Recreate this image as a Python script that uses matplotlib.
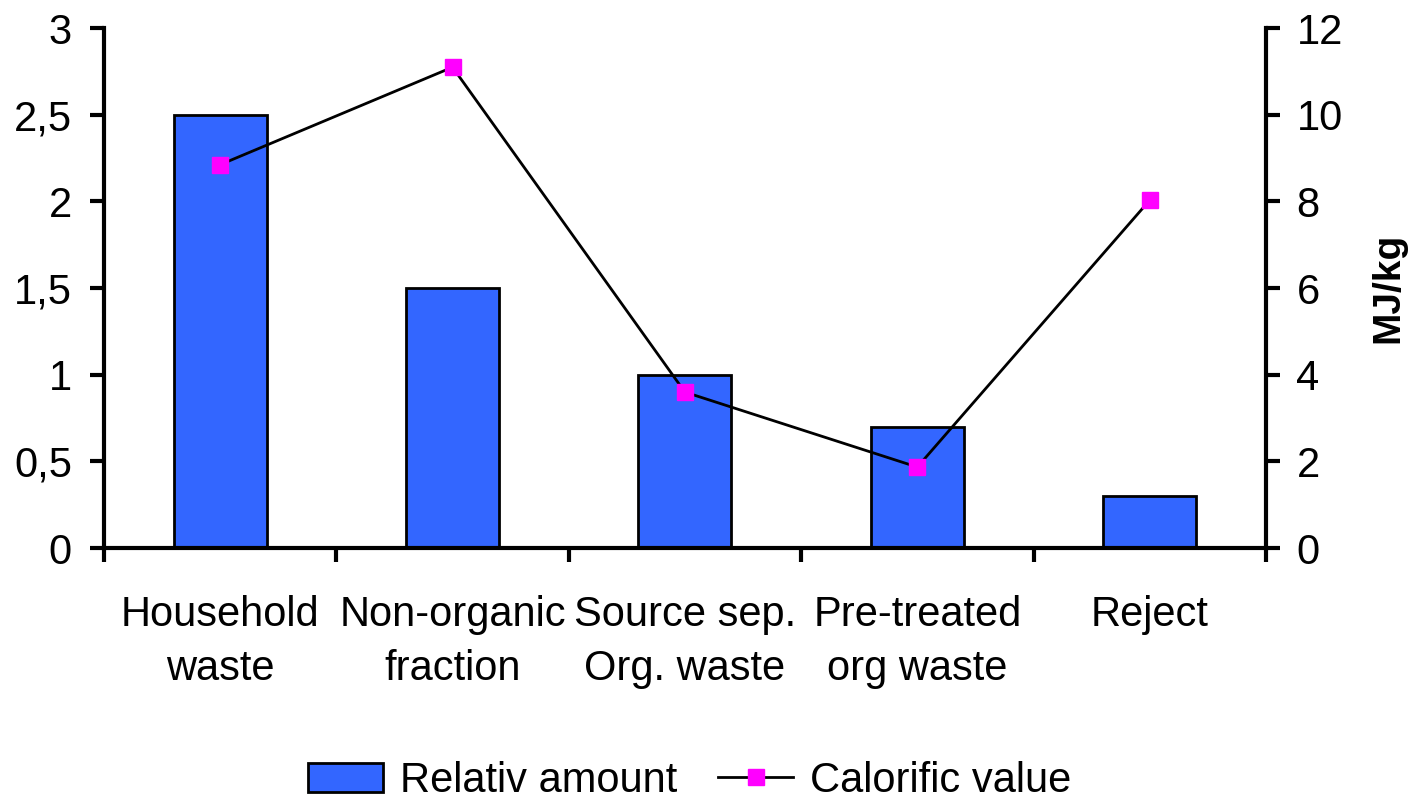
import matplotlib.pyplot as plt
import numpy as np
from matplotlib.ticker import FuncFormatter, FixedLocator

categories = ["Household\nwaste", "Non-organic\nfraction", "Source sep.\nOrg. waste",
              "Pre-treated\norg waste", "Reject"]
relativ_amount = [2.5, 1.5, 1.0, 0.7, 0.3]
calorific_value = [8.85, 11.1, 3.6, 1.87, 8.03]

plt.rcParams['font.family'] = ['Liberation Sans', 'DejaVu Sans']

fig = plt.figure(figsize=(14.16, 8.06), dpi=100)
ax = fig.add_axes([0.0734, 0.320, 0.8206, 0.645])
x = np.arange(len(categories))

bars = ax.bar(x, relativ_amount, width=0.4, color='#3366FF', edgecolor='black',
              linewidth=2.0, label='Relativ amount', zorder=2)
ax.set_xlim(-0.5, len(categories) - 0.5)
ax.set_ylim(0, 3)
ax.set_yticks(np.arange(0, 3.01, 0.5))
ax.yaxis.set_major_formatter(FuncFormatter(lambda v, p: f"{v:g}".replace('.', ',')))

# category boundaries get the tick marks, labels sit in between
ax.xaxis.set_major_locator(FixedLocator(np.arange(-0.5, len(categories), 1.0)))
ax.xaxis.set_minor_locator(FixedLocator(x))
ax.set_xticklabels([])
ax.set_xticklabels(categories, minor=True, linespacing=1.45)
ax.tick_params(axis='x', which='major', direction='out', length=10, width=3)
ax.tick_params(axis='x', which='minor', length=0, pad=34, labelsize=30)
ax.tick_params(axis='y', direction='out', length=10, width=3, pad=13, labelsize=30)

ax.spines['top'].set_visible(False)
ax.spines['right'].set_visible(False)
for s in ['left', 'bottom']:
    ax.spines[s].set_linewidth(3)

ax2 = ax.twinx()
line, = ax2.plot(x, calorific_value, color='black', linewidth=2.0, marker='s',
                 markersize=11, markerfacecolor='#FF00FF', markeredgecolor='#FF00FF',
                 label='Calorific value', zorder=3)
ax2.set_ylim(0, 12)
ax2.set_yticks(np.arange(0, 12.1, 2))
ax2.tick_params(axis='y', direction='out', length=10, width=3, pad=12, labelsize=30)
ax2.spines['top'].set_visible(False)
ax2.spines['left'].set_visible(False)
ax2.spines['bottom'].set_visible(False)
ax2.spines['right'].set_linewidth(3)
ax2.set_ylabel("MJ/kg", fontsize=28, fontweight='bold', labelpad=20)

fig.legend(handles=[bars, line], labels=['Relativ amount', 'Calorific value'],
           loc='lower center', bbox_to_anchor=(0.487, -0.04), ncol=2, frameon=False,
           fontsize=30, handlelength=1.8, handletextpad=0.4, columnspacing=1.0)

fig.savefig("out.png", dpi=100)
